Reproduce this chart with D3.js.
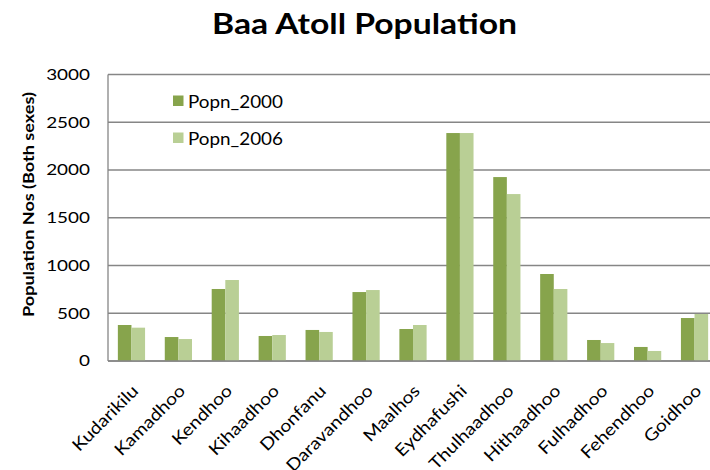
<!DOCTYPE html>
<html>
<head>
<meta charset="utf-8">
<script src="https://cdn.jsdelivr.net/npm/d3@7"></script>
<style>
  html, body { margin: 0; padding: 0; background: #ffffff; }
  svg { display: block; }
  text { font-family: Lato, "Open Sans", sans-serif; fill: #000; }
</style>
</head>
<body>
<svg id="chart" width="710" height="470"></svg>
<script>
// Island names along the bottom axis
const islands = ["Kudarikilu", "Kamadhoo", "Kendhoo", "Kihaadhoo", "Dhonfanu",
  "Daravandhoo", "Maalhos", "Eydhafushi", "Thulhaadhoo", "Hithaadhoo",
  "Fulhadhoo", "Fehendhoo", "Goidhoo"];

// Population counts (both sexes) per island
const popn2000 = [377, 251, 754, 262, 325, 722, 335, 2387, 1926, 911, 220, 147, 450];
const popn2006 = [349, 230, 848, 272, 304, 743, 377, 2387, 1748, 754, 188, 105, 492];

const seriesNames = ["Popn_2000", "Popn_2006"];
const yTicks = [0, 500, 1000, 1500, 2000, 2500, 3000];

const colors = ["#87a44c", "#b9cf95"];

const svg = d3.select("#chart");
const plot = { left: 108, right: 718, top: 74.5, bottom: 361 };

// Widen glyphs horizontally by a factor, keeping the font height
function widen(sel, factor) {
  sel.each(function () {
    const w = this.getComputedTextLength();
    d3.select(this)
      .attr("textLength", w * factor)
      .attr("lengthAdjust", "spacingAndGlyphs");
  });
}

const x = d3.scaleBand()
  .domain(islands)
  .range([plot.left, plot.right])
  .paddingInner(0.42)
  .paddingOuter(0.21);

const xs = d3.scaleBand()
  .domain(seriesNames)
  .range([0, x.bandwidth()]);

const y = d3.scaleLinear().domain([0, 3000]).range([plot.bottom, plot.top]);

// Horizontal gridlines
svg.append("g")
  .selectAll("line")
  .data(yTicks)
  .join("line")
  .attr("x1", plot.left).attr("x2", plot.right)
  .attr("y1", d => y(d)).attr("y2", d => y(d))
  .attr("stroke", "#868686")
  .attr("stroke-width", 1.3);

// Bars
const rows = islands.map((name, i) => ({ name, vals: [popn2000[i], popn2006[i]] }));
svg.append("g")
  .selectAll("g")
  .data(rows)
  .join("g")
  .attr("transform", d => `translate(${x(d.name)},0)`)
  .selectAll("rect")
  .data(d => d.vals.map((v, k) => ({ key: seriesNames[k], v, k })))
  .join("rect")
  .attr("x", d => xs(d.key))
  .attr("width", xs.bandwidth())
  .attr("y", d => y(d.v))
  .attr("height", d => y(0) - y(d.v))
  .attr("fill", d => colors[d.k]);

// Axis lines
svg.append("line")
  .attr("x1", plot.left).attr("x2", plot.left)
  .attr("y1", plot.top).attr("y2", plot.bottom)
  .attr("stroke", "#868686").attr("stroke-width", 1.3);
svg.append("line")
  .attr("x1", plot.left).attr("x2", plot.right)
  .attr("y1", plot.bottom).attr("y2", plot.bottom)
  .attr("stroke", "#868686").attr("stroke-width", 1.3);

// Y tick labels
const yAxis = d3.axisLeft(y).tickValues(yTicks).tickFormat(d3.format("d"))
  .tickSize(0).tickPadding(18);
const gy = svg.append("g").attr("transform", `translate(${plot.left},0)`).call(yAxis);
gy.select(".domain").remove();
gy.selectAll("text")
  .attr("font-size", 15.5)
  .attr("font-family", "Lato, sans-serif")
  .attr("fill", "#000")
  .call(widen, 1.22);

// X tick labels, rotated
const xAxis = d3.axisBottom(x).tickSize(0).tickPadding(0);
const gx = svg.append("g").attr("transform", `translate(0,${plot.bottom})`).call(xAxis);
gx.select(".domain").remove();
gx.selectAll("text")
  .attr("font-size", 17)
  .attr("font-family", "Lato, sans-serif")
  .attr("fill", "#000")
  .attr("text-anchor", "end")
  .attr("dy", 0)
  .attr("y", 0)
  .attr("transform", "translate(8,31) rotate(-45)")
  .call(widen, 1.14);

// Title
svg.append("text")
  .attr("x", 364.5).attr("y", 34)
  .attr("text-anchor", "middle")
  .attr("font-size", 28)
  .attr("font-weight", "bold")
  .attr("textLength", 305)
  .attr("lengthAdjust", "spacingAndGlyphs")
  .text("Baa Atoll Population");

// Y axis title
svg.append("text")
  .attr("transform", "translate(27,204.5) rotate(-90)")
  .attr("text-anchor", "middle")
  .attr("dominant-baseline", "central")
  .attr("font-size", 16)
  .attr("font-weight", "bold")
  .attr("textLength", 225)
  .attr("lengthAdjust", "spacingAndGlyphs")
  .text("Population Nos (Both sexes)");

// Legend
const legend = svg.append("g");
seriesNames.forEach((name, i) => {
  const ly = 101 + i * 37;
  legend.append("rect")
    .attr("x", 173).attr("y", ly - 5.5)
    .attr("width", 10.5).attr("height", 10.5)
    .attr("fill", colors[i]);
  legend.append("text")
    .attr("x", 188).attr("y", ly)
    .attr("dominant-baseline", "central")
    .attr("font-size", 17.5)
    .attr("fill", "#111")
    .attr("textLength", 95)
    .attr("lengthAdjust", "spacingAndGlyphs")
    .text(name);
});
</script>
</body>
</html>
